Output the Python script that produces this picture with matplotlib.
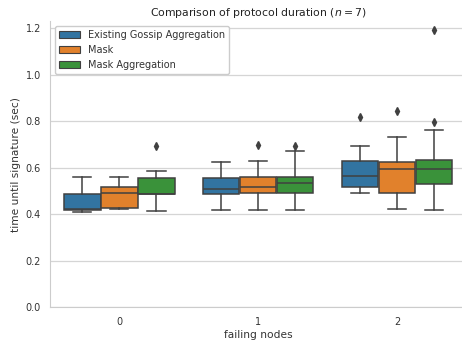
import matplotlib
matplotlib.use("Agg")
import matplotlib.pyplot as plt
from matplotlib.patches import Patch

# Data
groups = [0, 1, 2]
series = ["Existing Gossip Aggregation", "Mask", "Mask Aggregation"]
colors = ["#3274a1", "#e1812c", "#3a923a"]

# per series, per group statistics
whislo = {
    "Existing Gossip Aggregation": [0.410, 0.420, 0.490],
    "Mask": [0.421, 0.420, 0.423],
    "Mask Aggregation": [0.415, 0.417, 0.417],
}
q1 = {
    "Existing Gossip Aggregation": [0.418, 0.486, 0.516],
    "Mask": [0.428, 0.490, 0.493],
    "Mask Aggregation": [0.487, 0.490, 0.532],
}
med = {
    "Existing Gossip Aggregation": [0.423, 0.509, 0.563],
    "Mask": [0.490, 0.519, 0.596],
    "Mask Aggregation": [0.487, 0.533, 0.596],
}
q3 = {
    "Existing Gossip Aggregation": [0.487, 0.555, 0.628],
    "Mask": [0.516, 0.559, 0.626],
    "Mask Aggregation": [0.556, 0.562, 0.634],
}
whishi = {
    "Existing Gossip Aggregation": [0.559, 0.626, 0.694],
    "Mask": [0.559, 0.629, 0.733],
    "Mask Aggregation": [0.585, 0.672, 0.764],
}
fliers = {
    "Existing Gossip Aggregation": [[], [], [0.818]],
    "Mask": [[], [0.699], [0.844]],
    "Mask Aggregation": [[0.695], [0.694], [0.797, 1.191]],
}

W, H = 462, 347
fig = plt.figure(figsize=(W / 100, H / 100), dpi=100)
ax = fig.add_axes([50 / W, 1 - 307.3 / H, 416.5 / W, (307.3 - 21.3) / H])

gray = "#404040"
n = len(series)
bw = 0.8 / n
for i, s in enumerate(series):
    stats = []
    for g in range(len(groups)):
        stats.append(dict(whislo=whislo[s][g], q1=q1[s][g], med=med[s][g],
                          q3=q3[s][g], whishi=whishi[s][g], fliers=fliers[s][g]))
    pos = [g + (i - (n - 1) / 2) * bw for g in groups]
    ax.bxp(stats, positions=pos, widths=bw * 0.98, patch_artist=True,
           showfliers=True, manage_ticks=False,
           boxprops=dict(facecolor=colors[i], edgecolor=gray, linewidth=1.1),
           medianprops=dict(color=gray, linewidth=1.1),
           whiskerprops=dict(color=gray, linewidth=1.1),
           capprops=dict(color=gray, linewidth=1.1),
           flierprops=dict(marker="d", markerfacecolor=gray, markeredgecolor=gray,
                           markersize=4, linestyle="none"))

ax.set_xlim(-0.5, 2.5)
ax.set_ylim(0, 1.23)
ax.set_xticks(groups)
ax.set_xticklabels([str(g) for g in groups])
ax.set_yticks([0.0, 0.2, 0.4, 0.6, 0.8, 1.0, 1.2])
ax.set_yticklabels(["0.0", "0.2", "0.4", "0.6", "0.8", "1.0", "1.2"])
ax.yaxis.grid(True, color="#d5d5d5", linewidth=0.9)
ax.set_axisbelow(True)
for sp in ["top", "right"]:
    ax.spines[sp].set_visible(False)
for sp in ["left", "bottom"]:
    ax.spines[sp].set_color("#cccccc")
ax.tick_params(axis="both", length=0, labelsize=7.0, labelcolor="#333333")
ax.tick_params(axis="y", pad=6.5)
ax.tick_params(axis="x", pad=7)
ax.set_xlabel("failing nodes", fontsize=7.7, color="#333333", labelpad=2.5)
ax.set_ylabel("time until signature (sec)", fontsize=7.7, color="#333333", labelpad=3)
ax.set_title("Comparison of protocol duration ($n = 7$)", fontsize=7.8, color="#222222", pad=3.5)

handles = [Patch(facecolor=c, edgecolor=gray, linewidth=0.8, label=s) for c, s in zip(colors, series)]
ax.legend(handles=handles, loc="upper left", fontsize=7.0, frameon=True,
          edgecolor="#cccccc", framealpha=1, labelcolor="#333333",
          handlelength=2.2, borderaxespad=0.5)

fig.savefig("out.png", dpi=100)
